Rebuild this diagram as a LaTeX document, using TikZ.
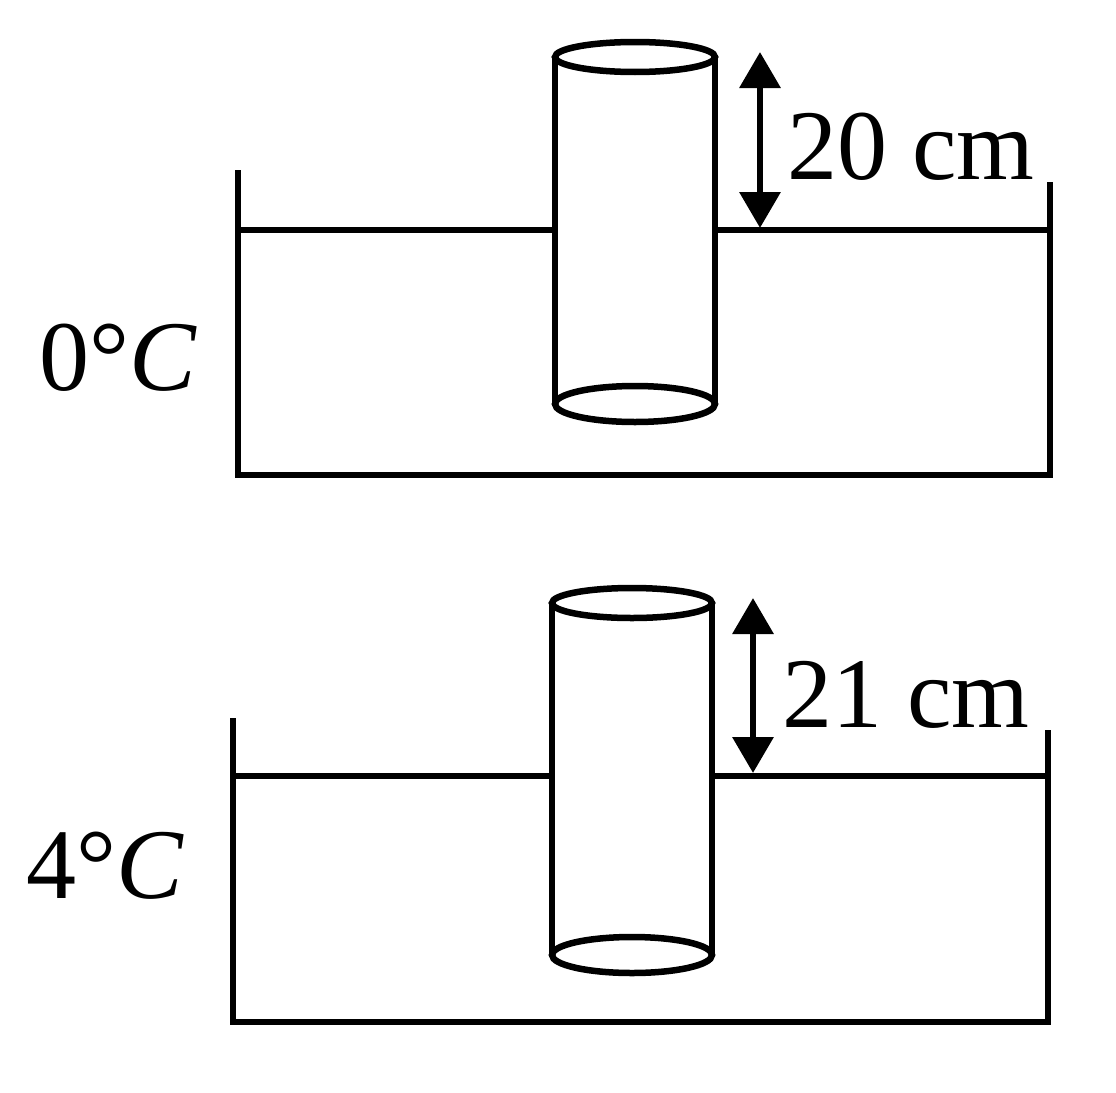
\documentclass[tikz,border=0pt]{standalone}
\usepackage{fontspec}
\setmainfont{Liberation Serif}
\usetikzlibrary{arrows.meta}
\begin{document}
\begin{tikzpicture}[x=1pt,y=-1pt,line width=6.5pt,
  lbl/.style={font=\fontsize{100}{110}\selectfont,inner sep=0pt},
  dim/.style={{Triangle[length=36pt,width=40pt]}-{Triangle[length=36pt,width=40pt]},line width=6.5pt}]
\useasboundingbox (0,0) rectangle (1116,1092);
% top
\draw (238,170) -- (238,475) -- (1050,475) -- (1050,182);
\draw (238,230) -- (555,230);
\draw (715,230) -- (1050,230);
\draw (555,57) -- (555,404);
\draw (715,57) -- (715,404);
\draw (635,57) ellipse (80 and 15);
\draw (635,404) ellipse (80 and 18);
\coordinate (a1) at (760,52);
\coordinate (a2) at (760,228);
\draw[dim] (a1) -- (a2);
\node[lbl] (t1) at (911,147) {20 cm};
\node[lbl] (c1) at (118,358) {0°\textit{C}};
% bottom
\draw (233,718) -- (233,1022) -- (1048,1022) -- (1048,730);
\draw (233,776) -- (550,776);
\draw (712,776) -- (1048,776);
\draw (552,603) -- (552,955);
\draw (712,603) -- (712,955);
\draw (632,603) ellipse (80 and 15);
\draw (632,955) ellipse (80 and 18);
\coordinate (b1) at (753,598);
\coordinate (b2) at (753,773);
\draw[dim] (b1) -- (b2);
\node[lbl] (t2) at (906,695) {21 cm};
\node[lbl] (c2) at (105,866) {4°\textit{C}};
\end{tikzpicture}
\end{document}
